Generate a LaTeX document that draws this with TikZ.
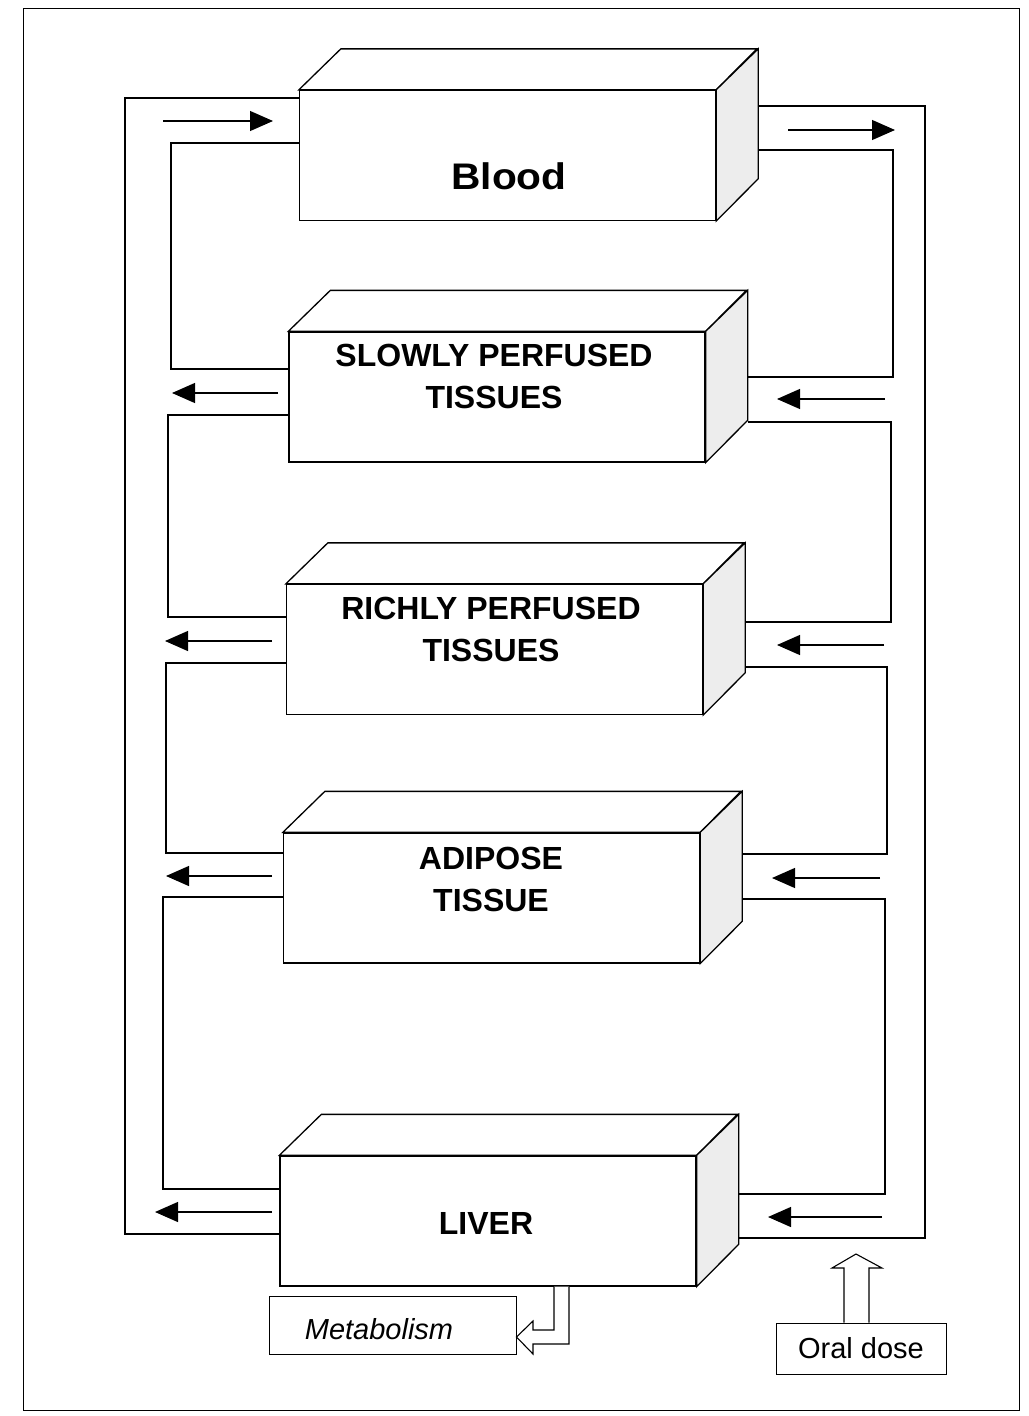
\documentclass[tikz,border=0pt]{standalone}
\usepackage{fontspec}
\setmainfont{Liberation Sans}
\usetikzlibrary{arrows.meta}
\newcommand\solidbox[1]{%
  \draw[line width=1.3pt, fill=white] (#1.north west) -- ++(42,41) -- ++(416,0) -- (#1.north east) -- cycle;
  \draw[line width=1.3pt, fill=gray!14] (#1.north east) -- ++(42,41) -- ++(0,-130) -- (#1.south east) -- cycle;
  \coordinate (#1-back) at ([xshift=42pt]#1.east);
}
\begin{document}
\begin{tikzpicture}[x=1pt,y=1pt,
  front/.style={draw, line width=1.3pt, minimum width=416pt, minimum height=130pt, inner sep=0pt, fill=white},
  conn/.style={line width=1.2pt},
  flow/.style={line width=1.2pt, -{Triangle[length=23pt,width=20pt]}},
  lbl/.style={font=\fontsize{32}{42}\selectfont\bfseries, align=center, inner sep=0pt},
  small/.style={draw, line width=1pt, inner sep=0pt},
]
\useasboundingbox (0,0) rectangle (1028,-1416);
\draw[line width=1pt] (23,-8) rectangle (1019,-1410);

% compartments
\node[front] (blood) at (507.5,-155.5) {};
\node[front] (slow) at (497,-397) {};
\node[front] (rich) at (494.5,-649.5) {};
\node[front] (adip) at (491.5,-898) {};
\node[front] (liver) at (488,-1221) {};
\solidbox{blood}
\solidbox{slow}
\solidbox{rich}
\solidbox{adip}
\solidbox{liver}

\node[lbl, font=\fontsize{37}{40}\selectfont\bfseries, xscale=1.1] (bloodtxt) at (509,-176) {Blood};
\node[lbl] (slowtxt) at (494,-376) {SLOWLY PERFUSED\\TISSUES};
\node[lbl] (richtxt) at (491,-629) {RICHLY PERFUSED\\TISSUES};
\node[lbl] (adiptxt) at (491,-879) {ADIPOSE\\TISSUE};
\node[lbl] (livertxt) at (486,-1223) {LIVER};

% left connectors
\draw[conn] (blood.west |- 0,-98) -- (125,-98) -- (125,-1234) -- (liver.west |- 0,-1234);
\draw[conn] (blood.west |- 0,-143) -- (171,-143) -- (171,-369) -- (slow.west |- 0,-369);
\draw[conn] (slow.west |- 0,-415) -- (168,-415) -- (168,-617) -- (rich.west |- 0,-617);
\draw[conn] (rich.west |- 0,-663) -- (166,-663) -- (166,-853) -- (adip.west |- 0,-853);
\draw[conn] (adip.west |- 0,-897) -- (163,-897) -- (163,-1189) -- (liver.west |- 0,-1189);

% right connectors
\draw[conn] (blood-back |- 0,-106) -- (925,-106) -- (925,-1238) -- (liver-back |- 0,-1238);
\draw[conn] (blood-back |- 0,-150) -- (893,-150) -- (893,-377) -- (slow-back |- 0,-377);
\draw[conn] (slow-back |- 0,-422) -- (891,-422) -- (891,-622) -- (rich-back |- 0,-622);
\draw[conn] (rich-back |- 0,-667) -- (887,-667) -- (887,-854) -- (adip-back |- 0,-854);
\draw[conn] (adip-back |- 0,-899) -- (885,-899) -- (885,-1194) -- (liver-back |- 0,-1194);

% flow arrows
\draw[flow] (163,-121) -- (273,-121);
\draw[flow] (278,-393) -- (172,-393);
\draw[flow] (272,-641) -- (165,-641);
\draw[flow] (272,-876) -- (166,-876);
\draw[flow] (272,-1212) -- (155,-1212);
\draw[flow] (788,-130) -- (895,-130);
\draw[flow] (885,-399) -- (777,-399);
\draw[flow] (884,-645) -- (777,-645);
\draw[flow] (880,-878) -- (772,-878);
\draw[flow] (882,-1217) -- (768,-1217);

% metabolism
\node[small, minimum width=247pt, minimum height=58pt] (metab) at (392.5,-1325) {};
\node[inner sep=0pt, font=\fontsize{29}{32}\selectfont\itshape] (metabtxt) at (379,-1329) {Metabolism};
\draw[line width=1.1pt, fill=white] (554,0 |- liver.south) -- (554,-1330) -- (533,-1330) -- (533,-1321)
  -- (metab.east |- 0,-1337) -- (533,-1354) -- (533,-1344) -- (569,-1344) -- (569,0 |- liver.south);

% oral dose
\node[small, minimum width=170pt, minimum height=51pt, font=\fontsize{29}{32}\selectfont] (oral) at (861,-1348.5) {Oral dose};
\draw[line width=1.1pt, fill=white] (844,0 |- oral.north) -- (844,-1268) -- (832,-1268) -- (856,-1254)
  -- (882,-1268) -- (869,-1268) -- (869,0 |- oral.north);
\end{tikzpicture}
\end{document}
